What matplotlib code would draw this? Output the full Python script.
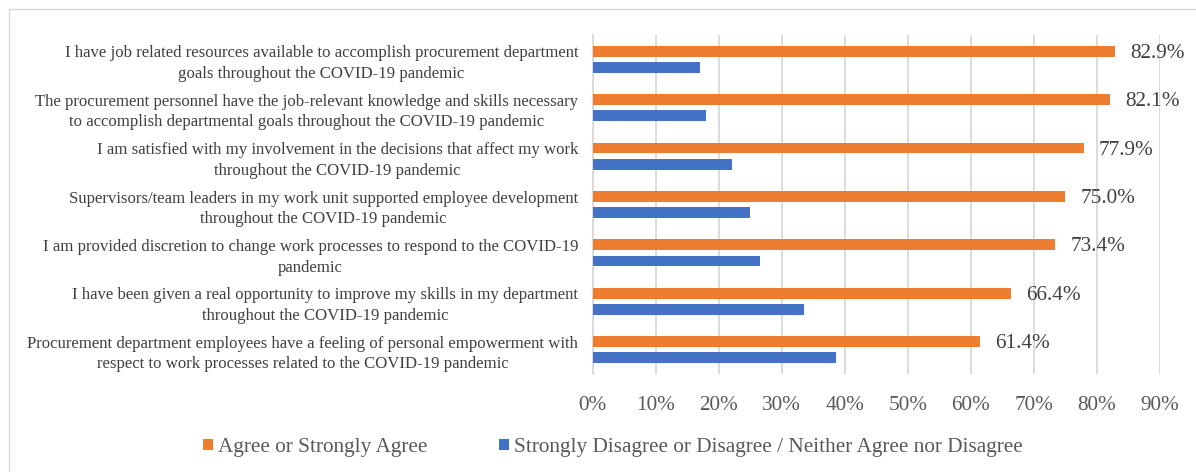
import numpy as np
import matplotlib
matplotlib.use("Agg")
import matplotlib.pyplot as plt
from matplotlib.patches import Rectangle
from matplotlib.ticker import FuncFormatter

plt.rcParams['font.family'] = ['Liberation Serif', 'DejaVu Serif']

statements = [
    "I have job related resources available to accomplish procurement department\ngoals throughout the COVID-19 pandemic",
    "The procurement personnel have the job-relevant knowledge and skills necessary\nto accomplish departmental goals throughout the COVID-19 pandemic",
    "I am satisfied with my involvement in the decisions that affect my work\nthroughout the COVID-19 pandemic",
    "Supervisors/team leaders in my work unit supported employee development\nthroughout the COVID-19 pandemic",
    "I am provided discretion to change work processes to respond to the COVID-19\npandemic",
    "I have been given a real opportunity to improve my skills in my department\nthroughout the COVID-19 pandemic",
    "Procurement department employees have a feeling of personal empowerment with\nrespect to work processes related to the COVID-19 pandemic",
]
agree = [82.9, 82.1, 77.9, 75.0, 73.4, 66.4, 61.4]
disagree = [17.1, 17.9, 22.1, 25.0, 26.6, 33.6, 38.6]
x_ticks = [0, 10, 20, 30, 40, 50, 60, 70, 80, 90]

ORANGE = "#ED7D31"
BLUE = "#4472C4"
GRID = "#D9D9D9"

fig = plt.figure(figsize=(11.96, 4.72), dpi=100)
ax = fig.add_axes([0.4956, 0.2076, 0.4741, 0.7182])

ypos = np.arange(len(statements))
off = 0.167
h = 0.225
bars_a = ax.barh(ypos - off, agree, height=h, color=ORANGE,
                 label="Agree or Strongly Agree", zorder=3)
bars_d = ax.barh(ypos + off, disagree, height=h, color=BLUE,
                 label="Strongly Disagree or Disagree / Neither Agree nor Disagree",
                 zorder=3)

for y, v in zip(ypos - off, agree):
    ax.annotate("%.1f%%" % v, (v, y), xytext=(11, -1.5), textcoords="offset points",
                ha="left", va="center", fontsize=15.3, color="#404040")

ax.set_xlim(0, 90)
ax.set_ylim(len(statements) - 0.5, -0.5)
ax.set_xticks(x_ticks)
ax.xaxis.set_major_formatter(FuncFormatter(lambda v, p: "%d%%" % v))
ax.set_yticks(ypos)
ax.set_yticklabels(statements, fontsize=12.1, color="#404040",
                   multialignment="center")
for lbl in ax.get_yticklabels():
    lbl.set_linespacing(1.38)
ax.tick_params(axis="y", length=0, pad=10.5)
ax.tick_params(axis="x", length=0, pad=15.5, labelsize=15.3, labelcolor="#595959")
ax.grid(axis="x", color=GRID, linewidth=1.3, zorder=0)
for s in ["top", "right", "bottom"]:
    ax.spines[s].set_visible(False)
ax.spines["left"].set_color(GRID)
ax.spines["left"].set_linewidth(1.3)

fig.legend(handles=[bars_a, bars_d], loc="center", bbox_to_anchor=(0.5125, 0.052),
           ncol=2, frameon=False, fontsize=15.3, labelcolor="#595959",
           handlelength=0.47, handleheight=0.47, handletextpad=0.25,
           columnspacing=3.35)

# light frame around the chart area
fig.patches.append(Rectangle((8.5 / 1196, -0.1), 1.2, (472 - 9) / 472 + 0.1,
                             transform=fig.transFigure, fill=False,
                             edgecolor=GRID, linewidth=1.0))

fig.savefig("out.png", dpi=100)
